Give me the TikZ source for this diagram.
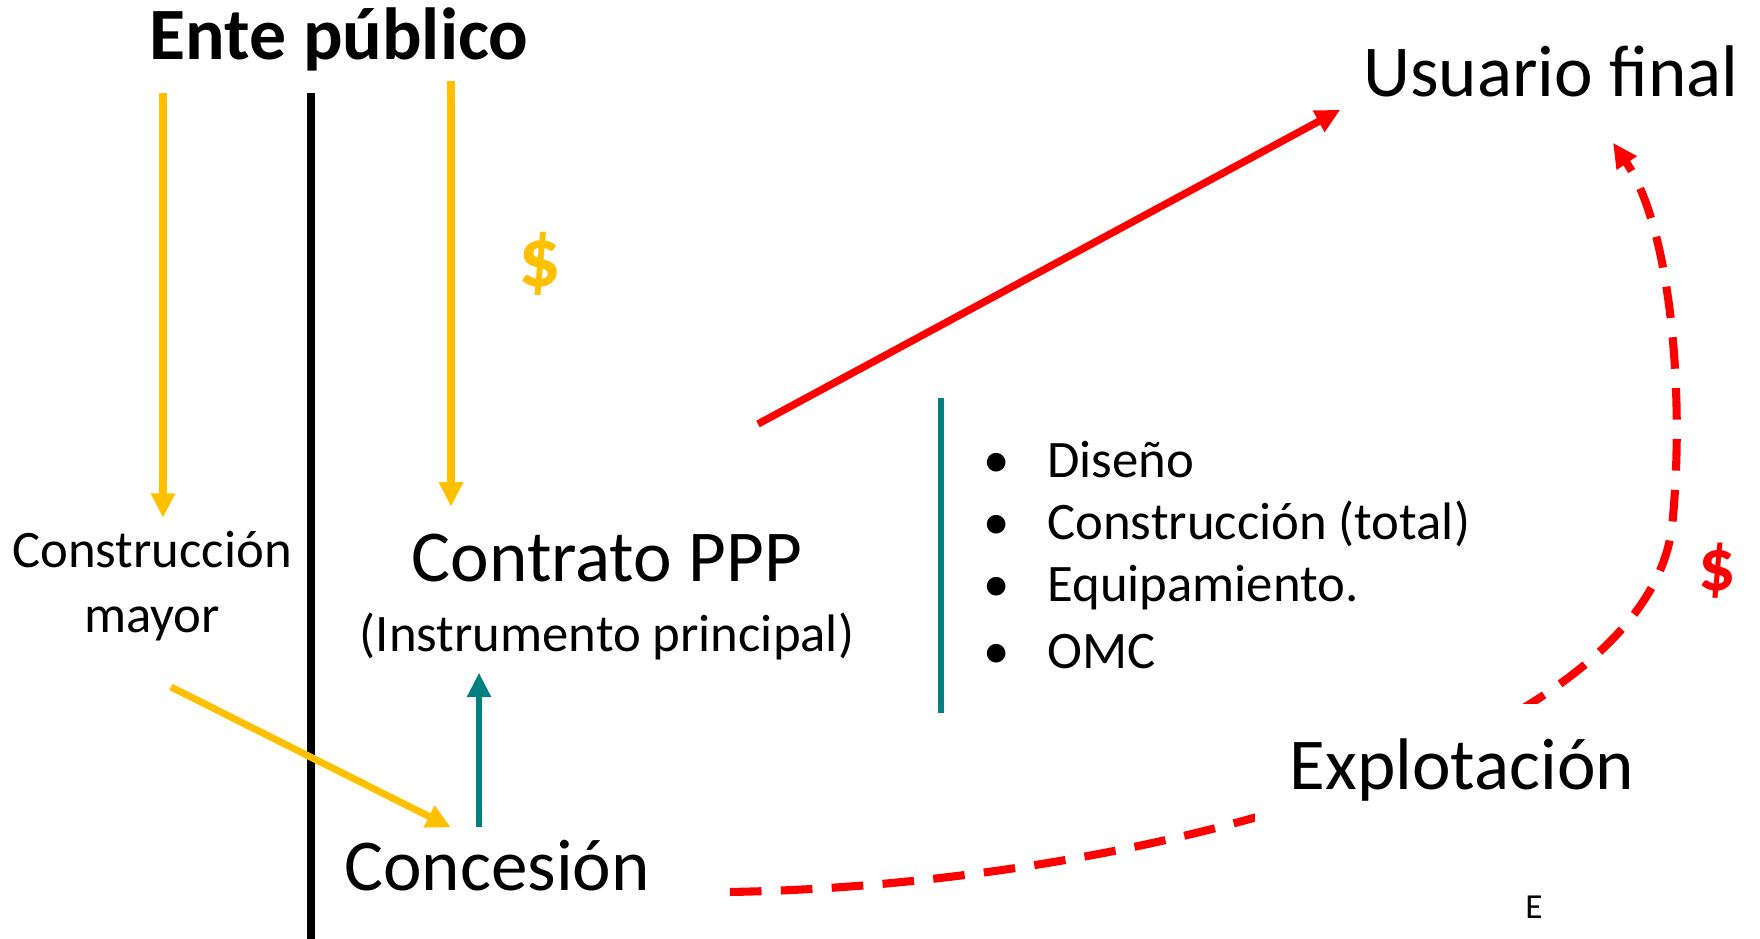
\documentclass[tikz,border=0pt]{standalone}
\usepackage{fontspec}
\setmainfont{Carlito}
\usetikzlibrary{arrows.meta,positioning}
\definecolor{amarillo}{HTML}{FFC000}
\definecolor{verdeazul}{HTML}{008080}
\definecolor{rojo}{HTML}{FF0000}
\newcommand{\punto}[1]{\makebox[6.4mm][l]{\textbullet}#1}

\begin{document}
\begin{tikzpicture}[thick,
    grande/.style = {font=\fontsize{20.8}{25}\selectfont},
    chica/.style = {font=\fontsize{15}{18.5}\selectfont},
    item/.style = {chica, anchor=west, inner sep=0pt},
    flechay/.style = {draw=amarillo, line width=2pt, -{Triangle[length=7pt,width=6.5pt]}},
    flechav/.style = {draw=verdeazul, line width=1.9pt, -{Triangle[length=7pt,width=6.5pt]}},
    flechar/.style = {draw=rojo, line width=2.1pt, -{Triangle[length=7pt,width=6.5pt]}},
    flechad/.style = {flechar, line width=2.3pt, dash pattern=on 9pt off 5.5pt}]
    \useasboundingbox (0,0) rectangle (17.6,9.39);

    % nodos
    \node[grande, font=\fontsize{21}{25}\selectfont\bfseries] (ente) at (3.39,9.00) {Ente público};
    \node[chica, align=center] (constr) at (1.52,3.53) {Construcción\\mayor};
    \node[grande] (contrato) at (6.07,3.81) {Contrato PPP};
    \node[chica] (instr) at (6.07,3.03) {(Instrumento principal)};
    \node[grande] (conc) at (4.97,0.73) {Concesión};
    \node[grande] (usr) at (15.51,8.68) {Usuario final};
    \node[font=\fontsize{24}{28}\selectfont\bfseries, text=amarillo] (dy) at (5.40,6.75) {\$};
    \node[font=\fontsize{21}{25}\selectfont\bfseries, text=rojo] (dr) at (17.17,3.68) {\$};
    \node[font=\fontsize{10}{12}\selectfont] (e) at (15.34,0.32) {E};

    \node[item] (b1) at (9.82,4.79) {\punto{Diseño}};
    \node[item] (b2) at (9.82,4.15) {\punto{Construcción (total)}};
    \node[item] (b3) at (9.82,3.51) {\punto{Equipamiento.}};
    \node[item] (b4) at (9.82,2.87) {\punto{OMC}};

    \coordinate (yl) at (1.63,8.46);
    \coordinate (ym) at (4.51,8.58);
    \coordinate (yd) at (1.71,2.52);
    \coordinate (r0) at (7.58,5.15);

    % lineas
    \draw[line width=2.2pt] (3.11,8.46) -- (3.11,0);
    \draw[verdeazul, line width=1.9pt] (9.41,5.41) -- (9.41,2.26);

    % flechas
    \draw[flechay] (yl) -- (yl |- constr.north);
    \draw[flechay, shorten >=4pt] (ym) -- (ym |- contrato.north);
    \draw[flechay] (yd) -- ([xshift=-4.6mm]conc.north);
    \draw[flechav] ([xshift=-1.8mm]conc.north) -- ([xshift=-1.8mm]conc.north |- instr.south);
    \draw[flechar] (r0) -- ([xshift=-1mm]usr.south west);
    \draw[flechad] ([xshift=6.7mm,yshift=-2.6mm]conc.east)
        .. controls (11.50,0.54) and (16.45,1.95) .. (16.72,4.12)
        .. controls (16.85,5.39) and (16.72,7.09) .. ([xshift=6.2mm,yshift=-3.3mm]usr.south);

    \node[grande, fill=white, inner sep=10pt] (expl) at (14.62,1.69) {Explotación};
\end{tikzpicture}
\end{document}
